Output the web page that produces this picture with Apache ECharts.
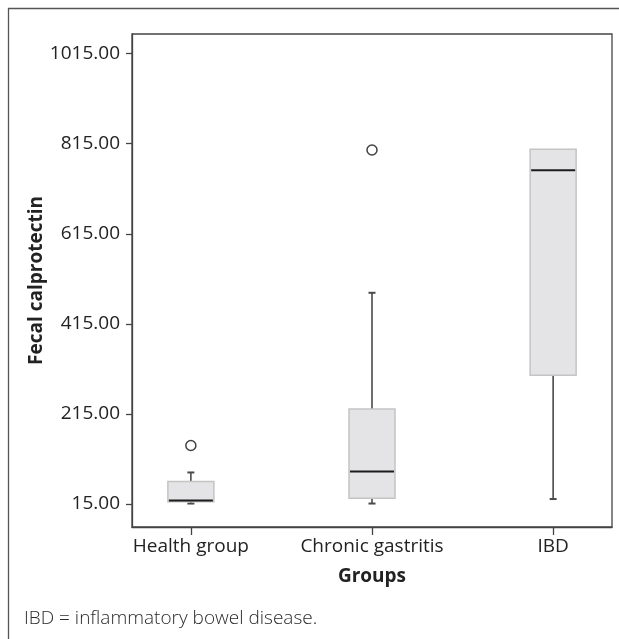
<!DOCTYPE html>
<html>
<head>
<meta charset="utf-8">
<script src="https://cdn.jsdelivr.net/npm/echarts@6/dist/echarts.min.js"></script>
<style>
  html, body { margin: 0; padding: 0; background: #fff; }
  #chart { width: 619px; height: 639px; }
</style>
</head>
<body>
<div id="chart"></div>
<script>
// values
const groups = ['Health group', 'Chronic gastritis', 'IBD'];
const whiskerLow = [16, 16, 26];
const q1 = [20, 28, 301];
const median = [23, 87, 756];
const q3 = [65, 226, 803];
const whiskerHigh = [85, 484, 803];
const outliers = [[0, 145], [1, 801]];
const yTicks = [15, 215, 415, 615, 815, 1015];

const font = '"Open Sans", "Noto Sans", sans-serif';
const axisColor = '#444';

const boxData = groups.map((g, i) => [i, whiskerLow[i], q1[i], median[i], q3[i], whiskerHigh[i]]);

function renderBox(params, api) {
  const x = api.value(0);
  const band = api.size([1, 0])[0];
  const half = band * 0.127;
  const cap = 3.5;
  const pLow = api.coord([x, api.value(1)]);
  const pQ1 = api.coord([x, api.value(2)]);
  const pMed = api.coord([x, api.value(3)]);
  const pQ3 = api.coord([x, api.value(4)]);
  const pHigh = api.coord([x, api.value(5)]);
  const cx = pMed[0];
  const whisker = { stroke: '#4a4a4a', lineWidth: 1.6 };
  const children = [];
  if (pLow[1] - pQ1[1] > 0.5) {
    children.push({ type: 'line', shape: { x1: cx, y1: pQ1[1], x2: cx, y2: pLow[1] }, style: whisker });
    children.push({ type: 'line', shape: { x1: cx - cap, y1: pLow[1], x2: cx + cap, y2: pLow[1] }, style: { stroke: '#4a4a4a', lineWidth: 2 } });
  }
  if (pQ3[1] - pHigh[1] > 0.5) {
    children.push({ type: 'line', shape: { x1: cx, y1: pQ3[1], x2: cx, y2: pHigh[1] }, style: whisker });
    children.push({ type: 'line', shape: { x1: cx - cap, y1: pHigh[1], x2: cx + cap, y2: pHigh[1] }, style: { stroke: '#4a4a4a', lineWidth: 2 } });
  }
  children.push({
    type: 'rect',
    shape: { x: cx - half, y: pQ3[1], width: half * 2, height: pQ1[1] - pQ3[1] },
    style: { fill: '#e4e4e6', stroke: '#c4c4c4', lineWidth: 1.5 }
  });
  children.push({
    type: 'line',
    shape: { x1: cx - half + 1, y1: pMed[1], x2: cx + half - 1, y2: pMed[1] },
    style: { stroke: '#1c1c1c', lineWidth: 2 }
  });
  return { type: 'group', children };
}

const chart = echarts.init(document.getElementById('chart'));
chart.setOption({
  animation: false,
  backgroundColor: '#fff',
  textStyle: { fontFamily: font },
  graphic: [{
    type: 'rect',
    shape: { x: 8.5, y: 8.5, width: 700, height: 700 },
    style: { fill: 'none', stroke: '#555', lineWidth: 1.3 },
    silent: true
  }],
  title: {
    text: 'IBD = inflammatory bowel disease.',
    left: 19,
    top: 604,
    textStyle: { fontFamily: font, fontSize: 19, fontWeight: 300, color: '#2a2a2a' }
  },
  grid: {
    left: 132, right: 7, top: 34, bottom: 112,
    show: true, borderColor: axisColor, borderWidth: 1.3, backgroundColor: 'transparent'
  },
  xAxis: {
    type: 'value',
    min: -0.325,
    max: 2.325,
    name: 'Groups',
    nameLocation: 'middle',
    nameGap: 40,
    nameMoveOverlap: false,
    nameTextStyle: { fontFamily: font, fontSize: 19, fontWeight: 'bold', color: '#222' },
    axisLine: { show: true, onZero: false, lineStyle: { color: axisColor, width: 1.3 } },
    axisTick: { show: true, length: 8, customValues: [0, 1, 2], lineStyle: { color: axisColor, width: 1.3 } },
    axisLabel: {
      customValues: [0, 1, 2],
      formatter: (v) => groups[Math.round(v)],
      margin: 10,
      fontFamily: font, fontSize: 19, color: '#222'
    },
    splitLine: { show: false }
  },
  yAxis: {
    type: 'value',
    min: -36.1,
    max: 1058.7,
    name: 'Fecal calprotectin',
    nameLocation: 'middle',
    nameGap: 86,
    nameMoveOverlap: false,
    nameTextStyle: { fontFamily: font, fontSize: 19, fontWeight: 'bold', color: '#222' },
    axisLine: { show: true, onZero: false, lineStyle: { color: axisColor, width: 1.3 } },
    axisTick: { show: true, length: 6, customValues: yTicks, lineStyle: { color: axisColor, width: 1.3 } },
    axisLabel: {
      customValues: yTicks,
      formatter: (v) => v.toFixed(2),
      margin: 12,
      fontFamily: font, fontSize: 19, color: '#222'
    },
    splitLine: { show: false }
  },
  series: [
    {
      type: 'custom',
      renderItem: renderBox,
      data: boxData,
      encode: { x: 0, y: [1, 2, 3, 4, 5] },
      clip: false
    },
    {
      type: 'scatter',
      data: outliers,
      symbol: 'circle',
      symbolSize: 10,
      itemStyle: { color: '#fff', borderColor: '#111', borderWidth: 1.5 }
    }
  ]
});
</script>
</body>
</html>
